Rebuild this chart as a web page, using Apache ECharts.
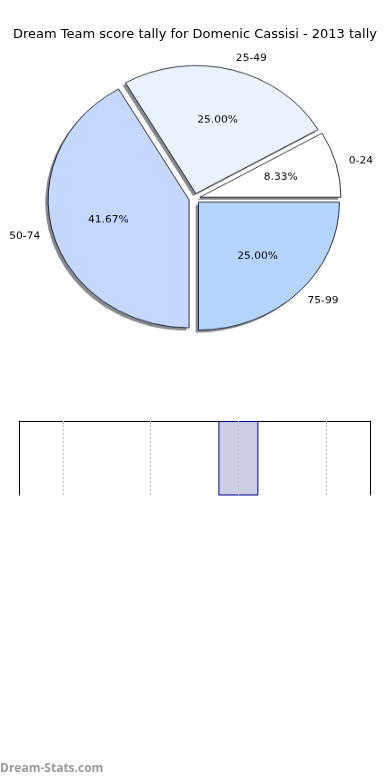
<!DOCTYPE html>
<html>
<head>
<meta charset="utf-8">
<script src="https://cdn.jsdelivr.net/npm/echarts@6/dist/echarts.min.js"></script>
<style>
  html, body { margin: 0; padding: 0; background: #fff; width: 390px; height: 780px; overflow: hidden; }
  #main { position: absolute; left: 0; top: 0; width: 390px; height: 780px; }
  #pie { position: absolute; left: 0; top: 0; width: 390px; height: 440px; transform-origin: 0 0; pointer-events: none; }
</style>
</head>
<body>
<div id="main"></div>
<div id="pie"></div>
<script>
// ---- data ----
const titleText = 'Dream Team score tally for Domenic Cassisi - 2013 tally';
const categories = ['0-24', '25-49', '50-74', '75-99'];
const counts = [1, 3, 5, 3];
const sliceColors = ['#ffffff', '#eaf1ff', '#c6d8ff', '#b5d5ff'];
const watermark = 'Dream-Stats.com';

// ---- layout constants ----
const RX = 141, RY = 128;
const S = RY / RX;           // vertical squash -> elliptical pie like the original
const CX = 194.5, CY = 198.5;
const EXPLODE = 5.6;
const LABEL_FIX = 4;         // pull label rings slightly inward
const FONT = 'DejaVu Sans';

document.getElementById('pie').style.transform = 'scaleY(' + S + ')';
const cyIn = CY / S;

function pieData(colorFn) {
  return categories.map((c, i) => ({
    name: c,
    value: counts[i],
    selected: true,
    itemStyle: { color: colorFn(i) },
    select: { itemStyle: { color: colorFn(i) } }
  }));
}

const commonPie = {
  type: 'pie',
  startAngle: 0,
  clockwise: false,
  selectedMode: 'multiple',
  selectedOffset: EXPLODE,
  avoidLabelOverlap: false,
  animation: false,
  silent: true,
  emphasis: { disabled: true },
  labelLine: { show: false }
};

const pieChart = echarts.init(document.getElementById('pie'), null, { renderer: 'canvas' });
pieChart.setOption({
  animation: false,
  series: [
    Object.assign({}, commonPie, {
      name: 'shadow',
      center: [CX - 2.8, cyIn + 2.6 / S],
      radius: [0, RX],
      label: { show: false },
      itemStyle: { borderWidth: 0 },
      select: { itemStyle: { borderWidth: 0 } },
      data: pieData(() => 'rgba(50,54,66,0.58)')
    }),
    Object.assign({}, commonPie, {
      name: 'slices',
      center: [CX, cyIn],
      radius: [0, RX],
      label: { show: false },
      itemStyle: { borderColor: '#000', borderWidth: 0.8 },
      select: { itemStyle: { borderColor: '#000', borderWidth: 0.8 } },
      data: pieData(i => sliceColors[i])
    }),
    Object.assign({}, commonPie, {
      name: 'pct',
      center: [CX, cyIn],
      radius: [RX * 0.2 - 2 * LABEL_FIX, RX],
      itemStyle: { borderWidth: 0 },
      label: {
        show: true, position: 'inside', color: '#000',
        fontFamily: FONT, fontSize: 10.7,
        formatter: p => p.percent.toFixed(2) + '%'
      },
      data: pieData(() => 'rgba(0,0,0,0)')
    }),
    Object.assign({}, commonPie, {
      name: 'names',
      center: [CX, cyIn],
      radius: [RX * 1.05 - LABEL_FIX, RX * 1.15 - LABEL_FIX],
      itemStyle: { borderWidth: 0 },
      label: {
        show: true, position: 'inside', color: '#000',
        fontFamily: FONT, fontSize: 10.7,
        formatter: p => p.name
      },
      labelLayout: function (params) {
        const r = params.labelRect;
        const right = (r.x + r.width / 2) > CX;
        return { dx: right ? r.width / 2 : -r.width / 2 };
      },
      data: pieData(() => 'rgba(0,0,0,0)')
    })
  ]
});

const mainChart = echarts.init(document.getElementById('main'), null, { renderer: 'canvas' });
mainChart.setOption({
  animation: false,
  title: {
    text: titleText,
    left: 'center',
    top: 23,
    textStyle: { fontFamily: FONT, fontSize: 13, fontWeight: 'normal', color: '#000' }
  },
  grid: { left: 19, right: 20, top: 421, bottom: 285, containLabel: false },
  xAxis: {
    type: 'category',
    data: categories,
    position: 'top',
    boundaryGap: true,
    axisLine: { show: true, onZero: false, lineStyle: { color: '#000', width: 1 } },
    axisTick: { show: true, inside: true, alignWithLabel: true, length: 3, lineStyle: { color: '#aaa' } },
    axisLabel: { show: false },
    splitLine: { show: false }
  },
  yAxis: [
    {
      type: 'value', min: 4, max: 5, position: 'left',
      axisLine: { show: true, lineStyle: { color: '#000', width: 1 } },
      axisTick: { show: false }, axisLabel: { show: false }, splitLine: { show: false }
    },
    {
      type: 'value', min: 4, max: 5, position: 'right',
      axisLine: { show: true, lineStyle: { color: '#000', width: 1 } },
      axisTick: { show: false }, axisLabel: { show: false }, splitLine: { show: false }
    }
  ],
  series: [{
    type: 'bar',
    data: counts,
    barWidth: 40,
    clip: true,
    silent: true,
    itemStyle: { color: '#cdcde6', borderColor: '#00008b', borderWidth: 1 },
    markLine: {
      silent: true,
      symbol: ['none', 'none'],
      label: { show: false },
      lineStyle: { type: [2, 2], color: '#bdbdbd', width: 1 },
      data: categories.map(c => ({ xAxis: c }))
    }
  }],
  graphic: [{
    type: 'text',
    left: 0,
    top: 763,
    style: { text: watermark, fill: '#9a9a9a', font: 'bold 12px "Open Sans"' }
  }]
});
</script>
</body>
</html>
